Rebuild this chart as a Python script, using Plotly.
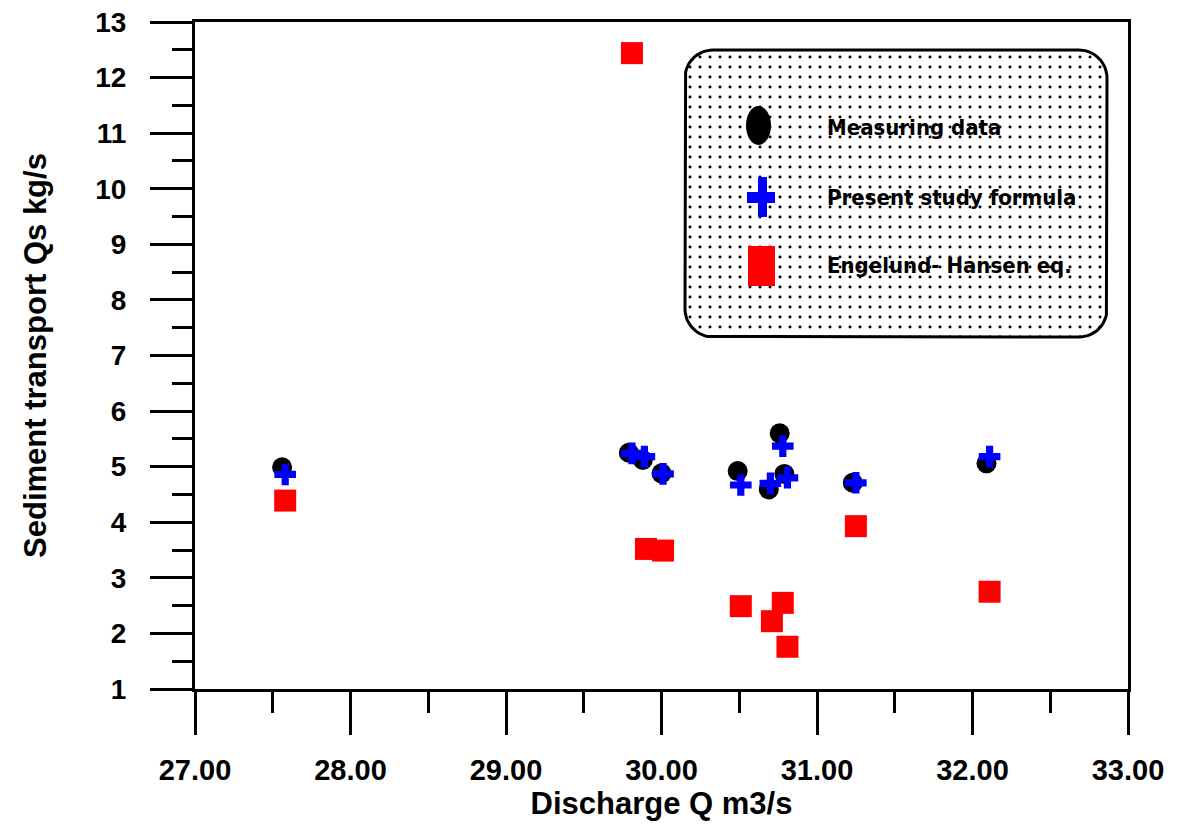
import numpy as np
import plotly.graph_objects as go

# ---- data ----
meas_q = [27.56, 29.79, 29.88, 30.00, 30.49, 30.76, 30.69, 30.79, 31.23, 32.09]
meas_qs = [4.99, 5.25, 5.12, 4.88, 4.92, 5.60, 4.59, 4.87, 4.71, 5.06]

present_q = [27.58, 29.81, 29.89, 30.01, 30.51, 30.78, 30.70, 30.81, 31.25, 32.11]
present_qs = [4.86, 5.24, 5.18, 4.87, 4.67, 5.37, 4.70, 4.80, 4.71, 5.18]

eh_q = [27.58, 29.81, 29.90, 30.01, 30.51, 30.78, 30.71, 30.81, 31.25, 32.11]
eh_qs = [4.39, 12.44, 3.52, 3.49, 2.49, 2.55, 2.22, 1.76, 3.93, 2.75]

legend_labels = ["Measuring data", "Present study formula", "Engelund- Hansen eq."]

x_ticks = [27, 28, 29, 30, 31, 32, 33]
y_ticks = list(range(1, 14))

# ---- figure ----
W, H = 1177, 824
L, R, T, B = 195, 49, 22, 135
x0p, x1p, y0p, y1p = L, W - R, T, H - B  # plot area in pixels

fig = go.Figure()

fig.add_trace(go.Scatter(x=meas_q, y=meas_qs, mode="markers", name=legend_labels[0],
                         marker=dict(symbol="circle", size=20, color="black",
                                     line=dict(width=0))))
fig.add_trace(go.Scatter(x=present_q, y=present_qs, mode="markers", name=legend_labels[1],
                         marker=dict(symbol="cross", size=18, color="#0000FF",
                                     line=dict(width=0))))
fig.add_trace(go.Scatter(x=eh_q, y=eh_qs, mode="markers", name=legend_labels[2],
                         marker=dict(symbol="square", size=22, color="#FF0000",
                                     line=dict(width=0))))

# ---- custom legend box (pixel coordinates on an overlay axis) ----
bx0, bx1, by0, by1, rad = 685, 1107, 50, 337, 28
pts_x, pts_y = [], []
corners = [(bx1 - rad, by0 + rad, -90, 0), (bx1 - rad, by1 - rad, 0, 90),
           (bx0 + rad, by1 - rad, 90, 180), (bx0 + rad, by0 + rad, 180, 270)]
for cx, cy, a0, a1 in corners:
    for a in np.linspace(np.radians(a0), np.radians(a1), 16):
        pts_x.append(cx + rad * np.cos(a))
        pts_y.append(cy + rad * np.sin(a))
pts_x.append(pts_x[0]); pts_y.append(pts_y[0])

fig.add_trace(go.Scatter(x=pts_x, y=pts_y, xaxis="x2", yaxis="y2", mode="lines",
                         fill="toself", fillcolor="white",
                         fillpattern=dict(shape=".", size=10, solidity=0.07,
                                          fgcolor="black", bgcolor="white", fillmode="replace"),
                         line=dict(color="black", width=3), hoverinfo="skip",
                         showlegend=False))

shapes = [
    dict(type="circle", xref="x2", yref="y2", x0=746, x1=771, y0=106, y1=145,
         fillcolor="black", line=dict(width=0)),
    dict(type="path", xref="x2", yref="y2",
         path="M747,192 H758 V177 H767 V192 H775 V203 H767 V217 H758 V203 H747 Z",
         fillcolor="#0000FF", line=dict(width=0)),
    dict(type="rect", xref="x2", yref="y2", x0=748, x1=775, y0=246, y1=286,
         fillcolor="#FF0000", line=dict(width=0)),
]
legend_font = dict(family="Liberation Sans Narrow, DejaVu Sans Condensed, sans-serif",
                   size=22, color="black", weight="bold")
annotations = []
for lab, yy in zip(legend_labels, [127, 197, 265]):
    annotations.append(dict(text=lab, x=825, y=yy, xref="x2", yref="y2",
                            xanchor="left", yanchor="middle", showarrow=False,
                            font=legend_font))

tick_font = dict(family="Liberation Sans, Arial, sans-serif", size=29, color="black", weight="bold")
title_font = dict(family="Liberation Sans, Arial, sans-serif", size=31, color="black", weight="bold")

fig.update_layout(
    width=W, height=H,
    margin=dict(l=L, r=R, t=T, b=B, autoexpand=False),
    paper_bgcolor="white", plot_bgcolor="white",
    showlegend=False,
    shapes=shapes, annotations=annotations,
    xaxis=dict(range=[27, 33], tickvals=x_ticks, ticktext=[f"{v:.2f}" for v in x_ticks],
               ticks="outside", ticklen=43, tickwidth=3, tickcolor="black",
               minor=dict(dtick=0.5, tick0=27, ticks="outside", ticklen=21, tickwidth=3,
                          tickcolor="black", showgrid=False),
               showline=True, linewidth=3, linecolor="black", mirror=True,
               showgrid=False, zeroline=False, tickfont=tick_font, ticklabelstandoff=10,
               title=dict(text="Discharge Q m3/s", font=title_font, standoff=8),
               automargin=False),
    yaxis=dict(range=[1, 13], tickvals=y_ticks,
               ticks="outside", ticklen=42, tickwidth=3, tickcolor="black",
               minor=dict(dtick=0.5, tick0=1, ticks="outside", ticklen=20, tickwidth=3,
                          tickcolor="black", showgrid=False),
               showline=True, linewidth=3, linecolor="black", mirror=True,
               showgrid=False, zeroline=False,
               tickfont=dict(tick_font, size=28), ticklabelstandoff=18,
               title=dict(text="Sediment transport Qs kg/s", font=title_font, standoff=40),
               automargin=False),
    xaxis2=dict(overlaying="x", range=[x0p, x1p], visible=False, fixedrange=True),
    yaxis2=dict(overlaying="y", range=[y1p, y0p], visible=False, fixedrange=True),
)

fig.write_html("out.html")
